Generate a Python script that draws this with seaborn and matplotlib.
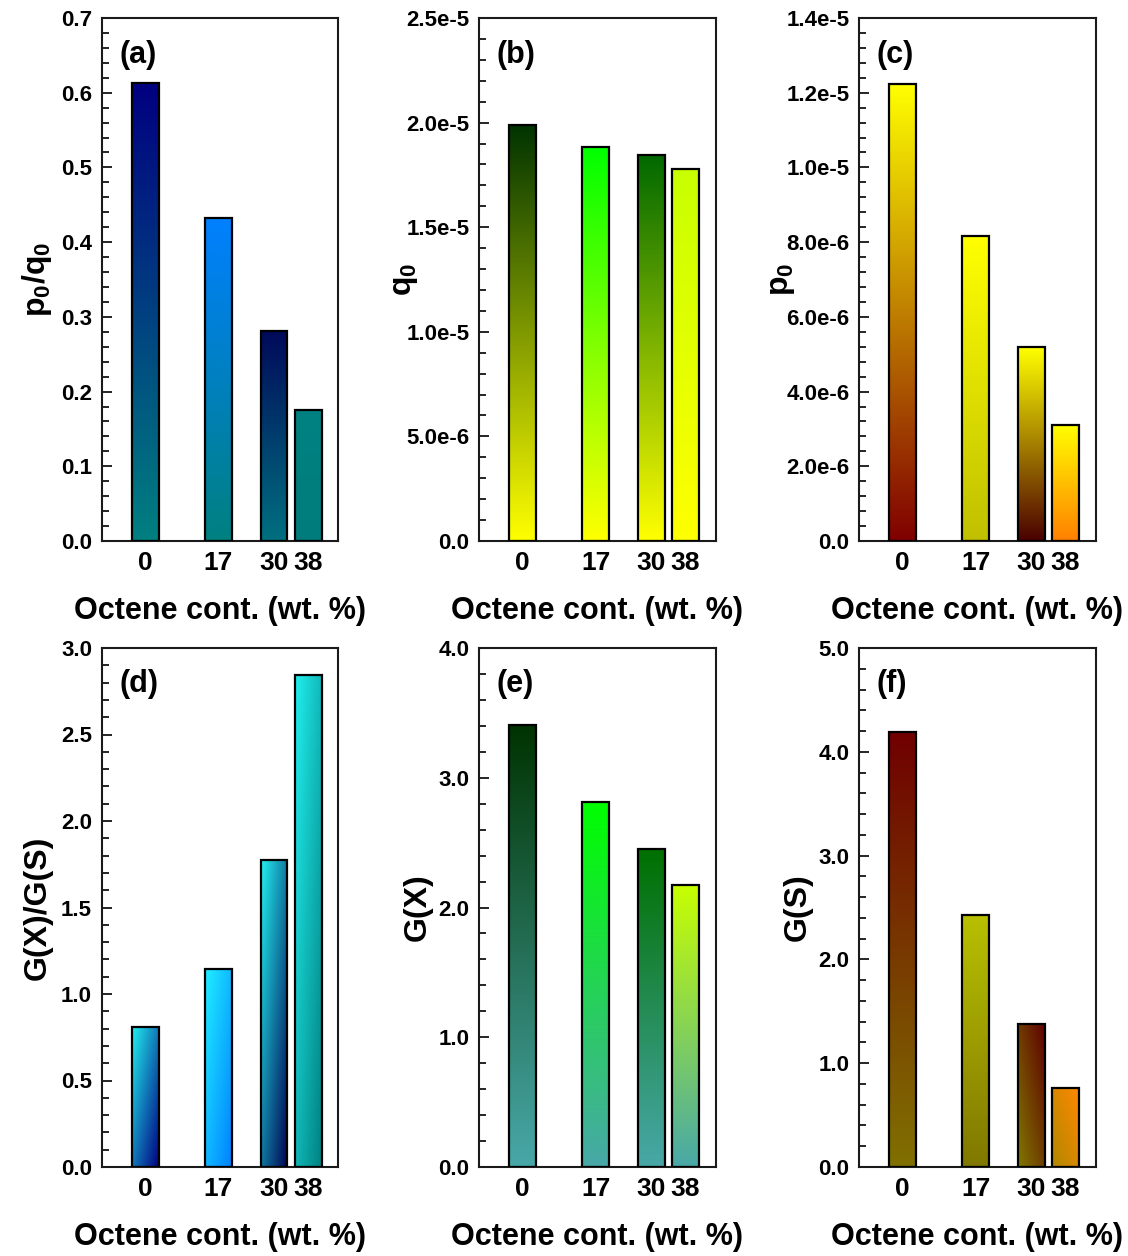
import numpy as np
import matplotlib
matplotlib.use("Agg")
import matplotlib.pyplot as plt
import matplotlib.ticker as mticker
from matplotlib.colors import to_rgb
import seaborn as sns

octene = [0, 17, 30, 38]

p0_q0 = [0.613, 0.432, 0.281, 0.175]
q0 = [1.99e-5, 1.884e-5, 1.846e-5, 1.778e-5]
p0 = [1.224e-5, 0.816e-5, 0.518e-5, 0.311e-5]
gx_gs = [0.812, 1.147, 1.772, 2.845]
gx = [3.41, 2.81, 2.45, 2.175]
gs = [4.19, 2.43, 1.373, 0.758]

# cores do gradiente por barra: (inicio, fim, modo)
# v = topo->base, d = sup.esq->inf.dir, a = sup.dir->inf.esq
grad_a = [("#000080", "#008080", "v"), ("#0080ff", "#008080", "v"),
          ("#000a5a", "#007080", "v"), ("#008282", "#007c7c", "v")]
grad_b = [("#003300", "#ffff00", "v"), ("#00ff00", "#ffff00", "v"),
          ("#006800", "#ffff00", "v"), ("#c8ff00", "#ffff00", "v")]
grad_c = [("#ffff00", "#800000", "v"), ("#ffff00", "#c0c000", "v"),
          ("#ffff00", "#4a0000", "v"), ("#ffff00", "#ff8000", "v")]
grad_d = [("#22f0f0", "#000080", "d"), ("#20f0ff", "#0080ff", "d"),
          ("#22f0f0", "#000050", "d"), ("#22f0f0", "#008080", "d")]
grad_e = [("#003300", "#48a8a8", "v"), ("#00ff00", "#48a8a8", "v"),
          ("#007000", "#48a8a8", "v"), ("#c8ff00", "#48a8a8", "v")]
grad_f = [("#700000", "#807000", "v"), ("#b8c000", "#807800", "v"),
          ("#600000", "#807800", "a"), ("#ff8800", "#b08800", "a")]

sns.set_style("ticks")
plt.rcParams["font.family"] = ["Liberation Sans", "DejaVu Sans"]
plt.rcParams["font.weight"] = "bold"
plt.rcParams["axes.labelweight"] = "bold"
plt.rcParams["text.color"] = "black"
plt.rcParams["axes.labelcolor"] = "black"
plt.rcParams["xtick.color"] = "black"
plt.rcParams["ytick.color"] = "black"
plt.rcParams["mathtext.fontset"] = "custom"
plt.rcParams["mathtext.bf"] = "Liberation Sans:bold"
plt.rcParams["mathtext.rm"] = "Liberation Sans:bold"


def sci_fmt(v, pos):
    if abs(v) < 1e-12:
        return "0.0"
    m, e = f"{v:.1e}".split("e")
    return f"{m}e-{abs(int(e))}" if int(e) < 0 else f"{m}e{int(e)}"


def gradient_img(c1, c2, mode, n=200):
    c1 = np.array(to_rgb(c1))
    c2 = np.array(to_rgb(c2))
    i = np.linspace(0, 1, n)[:, None]
    j = np.linspace(0, 1, n)[None, :]
    if mode == "v":
        t = i + 0 * j
    elif mode == "d":
        t = (i + j) / 2
    else:
        t = (i + (1 - j)) / 2
    return c1[None, None, :] * (1 - t[..., None]) + c2[None, None, :] * t[..., None]


def painel(ax, valores, grads, ylim, major, minor, ylabel, letra, fmt,
           pad_y=8):
    sns.barplot(x=octene, y=valores, native_scale=True, width=0.78, ax=ax,
                color="white", edgecolor="black", linewidth=1.6,
                errorbar=None)
    for patch, (c1, c2, mode) in zip(ax.patches, grads):
        bb = patch.get_bbox()
        patch.set_facecolor("none")
        patch.set_zorder(3)
        im = ax.imshow(gradient_img(c1, c2, mode),
                       extent=(bb.x0, bb.x1, bb.y0, bb.y1),
                       origin="upper", aspect="auto", zorder=2,
                       interpolation="bilinear")
        im.set_clip_path(patch)

    ax.set_xlim(-10.2, 45)
    ax.set_ylim(*ylim)
    ax.set_xticks(octene)
    ax.set_xticklabels([str(v) for v in octene])
    ax.yaxis.set_major_locator(mticker.MultipleLocator(major))
    ax.yaxis.set_minor_locator(mticker.MultipleLocator(minor))
    ax.yaxis.set_major_formatter(fmt)
    ax.tick_params(axis="x", length=0, pad=7, labelsize=19)
    ax.tick_params(axis="y", which="major", direction="in", length=7,
                   width=1.2, labelsize=16, pad=7)
    ax.tick_params(axis="y", which="minor", direction="in", length=5,
                   width=1.2)
    for s in ax.spines.values():
        s.set_visible(True)
        s.set_linewidth(1.5)
        s.set_color("#1a1a1a")
    ax.set_xlabel("Octene cont. (wt. %)", fontsize=22, fontweight="bold",
                  labelpad=15)
    ax.set_ylabel(ylabel, fontsize=23, fontweight="bold", labelpad=pad_y)
    ax.text(0.075, 0.93, letra, transform=ax.transAxes, fontsize=22,
            fontweight="bold", ha="left", va="center")


fig = plt.figure(figsize=(11.28, 12.56), dpi=100)
W, H = 1128, 1256
cols = [101.7, 479, 859]
larg = 236.5
linhas = [(18, 541), (648, 1167)]


def criar_ax(col, lin):
    x0 = cols[col] / W
    top, bot = linhas[lin]
    return fig.add_axes([x0, (H - bot) / H, larg / W, (bot - top) / H])


fmt1 = mticker.FormatStrFormatter("%.1f")
fmt_sci = mticker.FuncFormatter(sci_fmt)

painel(criar_ax(0, 0), p0_q0, grad_a, (0, 0.7), 0.1, 0.02,
       r"$\mathbf{p_0/q_0}$", "(a)", fmt1, pad_y=5)
painel(criar_ax(1, 0), q0, grad_b, (0, 2.5e-5), 5e-6, 1e-6,
       r"$\mathbf{q_0}$", "(b)", fmt_sci, pad_y=-10)
painel(criar_ax(2, 0), p0, grad_c, (0, 1.4e-5), 2e-6, 4e-7,
       r"$\mathbf{p_0}$", "(c)", fmt_sci, pad_y=-8)
painel(criar_ax(0, 1), gx_gs, grad_d, (0, 3.0), 0.5, 0.1,
       "G(X)/G(S)", "(d)", fmt1, pad_y=6)
painel(criar_ax(1, 1), gx, grad_e, (0, 4.0), 1.0, 0.2,
       "G(X)", "(e)", fmt1, pad_y=4)
painel(criar_ax(2, 1), gs, grad_f, (0, 5.0), 1.0, 0.2,
       "G(S)", "(f)", fmt1, pad_y=4)

fig.savefig("out.png", dpi=100)
